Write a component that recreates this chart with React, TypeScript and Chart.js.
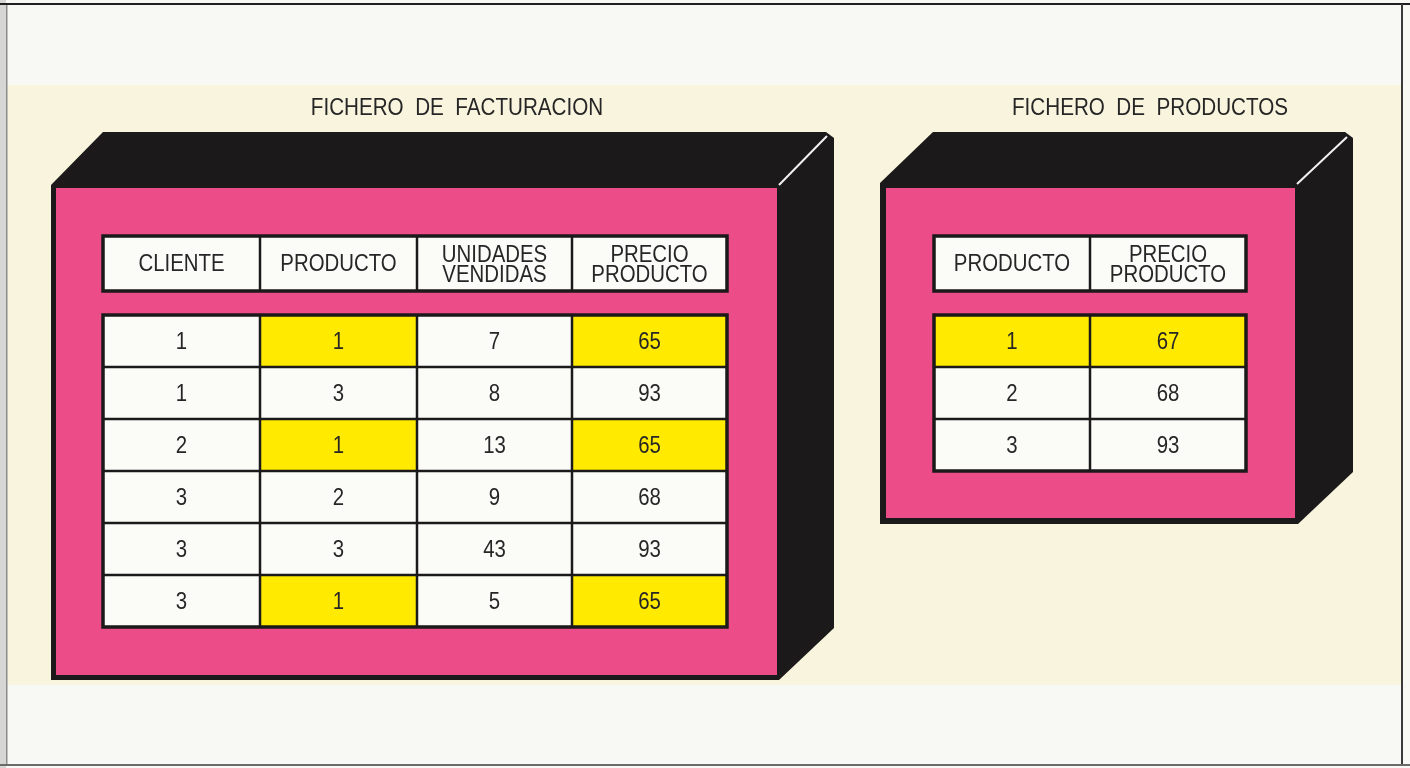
import React, { useEffect, useRef } from "react";
import { Chart, registerables } from "chart.js";

Chart.register(...registerables);

// ---------- DATA ----------
const factTitle = "FICHERO  DE  FACTURACION";
const prodTitle = "FICHERO  DE  PRODUCTOS";

const factHeaders: string[][] = [["CLIENTE"], ["PRODUCTO"], ["UNIDADES", "VENDIDAS"], ["PRECIO", "PRODUCTO"]];
const factCliente = [1, 1, 2, 3, 3, 3];
const factProducto = [1, 3, 1, 2, 3, 1];
const factUnidades = [7, 8, 13, 9, 43, 5];
const factPrecio = [65, 93, 65, 68, 93, 65];

const prodHeaders: string[][] = [["PRODUCTO"], ["PRECIO", "PRODUCTO"]];
const prodProducto = [1, 2, 3];
const prodPrecio = [67, 68, 93];

const selectedProduct = 1;

// ---------- LAYOUT (coordinates in scale units) ----------
const W = 1410;
const H = 768;

const factLayout = {
  sil: { x0: 51, x1: 779, y0: 185, y1: 680, topY: 132, topX0: 103, topX1: 826, sideX: 834, sideBottomY: 628 },
  pink: { x0: 56, x1: 777, y0: 188, y1: 675 },
  shine: [779, 185, 827, 136],
  colX: [103, 260, 417, 572, 727],
  headY: [236, 291],
  rowY0: 315,
  rowH: 52,
  title: [457, 108],
};

const prodLayout = {
  sil: { x0: 880, x1: 1298, y0: 183, y1: 524, topY: 132, topX0: 933, topX1: 1345, sideX: 1353, sideBottomY: 472 },
  pink: { x0: 886, x1: 1295, y0: 188, y1: 518 },
  shine: [1297, 184, 1347, 137],
  colX: [934, 1090, 1246],
  headY: [236, 291],
  rowY0: 315,
  rowH: 52,
  title: [1150, 108],
};

const COLORS = {
  paper: "#f8f8f5",
  cream: "#f8f4dd",
  black: "#1b1919",
  pink: "#ec4c87",
  yellow: "#ffea00",
  cell: "#fbfbf8",
  text: "#262626",
  shine: "#f2f2f2",
};

const FONT = '"Liberation Sans", Arial, sans-serif';

type Layout = typeof factLayout;

function drawBox(ctx: CanvasRenderingContext2D, px: (v: number) => number, py: (v: number) => number, L: Layout) {
  const s = L.sil;
  ctx.fillStyle = COLORS.black;
  ctx.beginPath();
  ctx.moveTo(px(s.x0), py(s.y0));
  ctx.lineTo(px(s.topX0), py(s.topY));
  ctx.lineTo(px(s.topX1), py(s.topY));
  ctx.lineTo(px(s.sideX), py(s.topY + 6));
  ctx.lineTo(px(s.sideX), py(s.sideBottomY));
  ctx.lineTo(px(s.x1), py(s.y1));
  ctx.lineTo(px(s.x0), py(s.y1));
  ctx.closePath();
  ctx.fill();

  const p = L.pink;
  ctx.fillStyle = COLORS.pink;
  ctx.fillRect(px(p.x0), py(p.y0), px(p.x1) - px(p.x0), py(p.y1) - py(p.y0));

  const [a, b, c, d] = L.shine;
  ctx.strokeStyle = COLORS.shine;
  ctx.lineWidth = 2;
  ctx.beginPath();
  ctx.moveTo(px(a), py(b));
  ctx.lineTo(px(c), py(d));
  ctx.stroke();
}

function drawText(
  ctx: CanvasRenderingContext2D,
  lines: string[],
  cx: number,
  cy: number,
  size: number,
  lh: number,
  sx: number
) {
  ctx.fillStyle = COLORS.text;
  ctx.font = `${size}px ${FONT}`;
  ctx.textAlign = "center";
  ctx.textBaseline = "middle";
  const n = lines.length;
  lines.forEach((ln, i) => {
    ctx.save();
    ctx.translate(cx, cy + (i - (n - 1) / 2) * lh);
    ctx.scale(sx, 1);
    ctx.fillText(ln, 0, 0);
    ctx.restore();
  });
}

function drawTable(
  ctx: CanvasRenderingContext2D,
  px: (v: number) => number,
  py: (v: number) => number,
  L: Layout,
  headers: string[][],
  columns: number[][],
  highlight: boolean[][]
) {
  const xs = L.colX.map(px);
  // header row
  const hy0 = py(L.headY[0]);
  const hy1 = py(L.headY[1]);
  for (let c = 0; c < headers.length; c++) {
    ctx.fillStyle = COLORS.cell;
    ctx.fillRect(xs[c], hy0, xs[c + 1] - xs[c], hy1 - hy0);
  }
  ctx.strokeStyle = COLORS.black;
  ctx.lineWidth = 2.5;
  for (let c = 1; c < headers.length; c++) {
    ctx.beginPath();
    ctx.moveTo(xs[c], hy0);
    ctx.lineTo(xs[c], hy1);
    ctx.stroke();
  }
  ctx.lineWidth = 3.5;
  ctx.strokeRect(xs[0], hy0, xs[xs.length - 1] - xs[0], hy1 - hy0);
  for (let c = 0; c < headers.length; c++) {
    const lines = headers[c];
    const off = lines.length > 1 ? 2 : 1;
    drawText(ctx, lines, (xs[c] + xs[c + 1]) / 2, (hy0 + hy1) / 2 + off, 24, 19.5, 0.85);
  }

  // data rows
  const nRows = columns[0].length;
  const ry = (r: number) => py(L.rowY0 + r * L.rowH);
  for (let r = 0; r < nRows; r++) {
    for (let c = 0; c < columns.length; c++) {
      ctx.fillStyle = highlight[c][r] ? COLORS.yellow : COLORS.cell;
      ctx.fillRect(xs[c], ry(r), xs[c + 1] - xs[c], ry(r + 1) - ry(r));
    }
  }
  ctx.strokeStyle = COLORS.black;
  ctx.lineWidth = 2.5;
  for (let r = 1; r < nRows; r++) {
    ctx.beginPath();
    ctx.moveTo(xs[0], ry(r));
    ctx.lineTo(xs[xs.length - 1], ry(r));
    ctx.stroke();
  }
  for (let c = 1; c < columns.length; c++) {
    ctx.beginPath();
    ctx.moveTo(xs[c], ry(0));
    ctx.lineTo(xs[c], ry(nRows));
    ctx.stroke();
  }
  ctx.lineWidth = 3.5;
  ctx.strokeRect(xs[0], ry(0), xs[xs.length - 1] - xs[0], ry(nRows) - ry(0));
  for (let r = 0; r < nRows; r++) {
    for (let c = 0; c < columns.length; c++) {
      drawText(ctx, [String(columns[c][r])], (xs[c] + xs[c + 1]) / 2, (ry(r) + ry(r + 1)) / 2 + 1, 24, 20, 0.85);
    }
  }
}

const diagramPlugin = {
  id: "ficheros",
  beforeDraw(chart: any) {
    const ctx: CanvasRenderingContext2D = chart.ctx;
    const xs = chart.scales.x;
    const ys = chart.scales.y;
    const px = (v: number) => xs.getPixelForValue(v);
    const py = (v: number) => ys.getPixelForValue(v);
    ctx.save();

    // paper
    ctx.fillStyle = COLORS.paper;
    ctx.fillRect(px(0), py(0), px(W) - px(0), py(H) - py(0));
    ctx.fillStyle = COLORS.cream;
    ctx.fillRect(px(7), py(85), px(1401) - px(7), py(685) - py(85));

    // page frame
    ctx.fillStyle = "#d6d6d4";
    ctx.fillRect(px(0), py(0), px(6) - px(0), py(H) - py(0));
    ctx.fillStyle = "#8c8c8c";
    ctx.fillRect(px(6), py(4), 1.5, py(766) - py(4));
    ctx.fillStyle = "#202020";
    ctx.fillRect(px(0), py(3), px(W) - px(0), 2);
    ctx.fillStyle = "#3a3a3a";
    ctx.fillRect(px(1401), py(4), 2, py(766) - py(4));
    ctx.fillStyle = "#6a6a6a";
    ctx.fillRect(px(0), py(764), px(W) - px(0), 2);

    // titles
    drawText(ctx, [factTitle], px(factLayout.title[0]), py(factLayout.title[1]), 24, 24, 0.86);
    drawText(ctx, [prodTitle], px(prodLayout.title[0]), py(prodLayout.title[1]), 24, 24, 0.86);

    // boxes
    drawBox(ctx, px, py, factLayout);
    drawBox(ctx, px, py, prodLayout);

    // tables
    const factCols = [factCliente, factProducto, factUnidades, factPrecio];
    const factHi = factCols.map((_, c) =>
      factProducto.map((p) => (c === 1 || c === 3) && p === selectedProduct)
    );
    drawTable(ctx, px, py, factLayout, factHeaders, factCols, factHi);

    const prodCols = [prodProducto, prodPrecio];
    const prodHi = prodCols.map(() => prodProducto.map((p) => p === selectedProduct));
    drawTable(ctx, px, py, prodLayout, prodHeaders, prodCols, prodHi);

    ctx.restore();
  },
};

export default function App() {
  const ref = useRef<HTMLCanvasElement | null>(null);
  useEffect(() => {
    if (!ref.current) return;
    const chart = new Chart(ref.current, {
      type: "scatter",
      data: { datasets: [{ data: [], pointRadius: 0 }] },
      options: {
        animation: false,
        responsive: false,
        devicePixelRatio: 1,
        layout: { padding: 0 },
        events: [],
        plugins: { legend: { display: false }, tooltip: { enabled: false }, title: { display: false } },
        scales: {
          x: { type: "linear", min: 0, max: W, display: false },
          y: { type: "linear", min: 0, max: H, reverse: true, display: false },
        },
      },
      plugins: [diagramPlugin],
    });
    return () => chart.destroy();
  }, []);
  return (
    <div style={{ position: "fixed", left: 0, top: 0, width: W, height: H, overflow: "hidden" }}>
      <canvas ref={ref} width={W} height={H} style={{ display: "block", width: W, height: H }} />
    </div>
  );
}
